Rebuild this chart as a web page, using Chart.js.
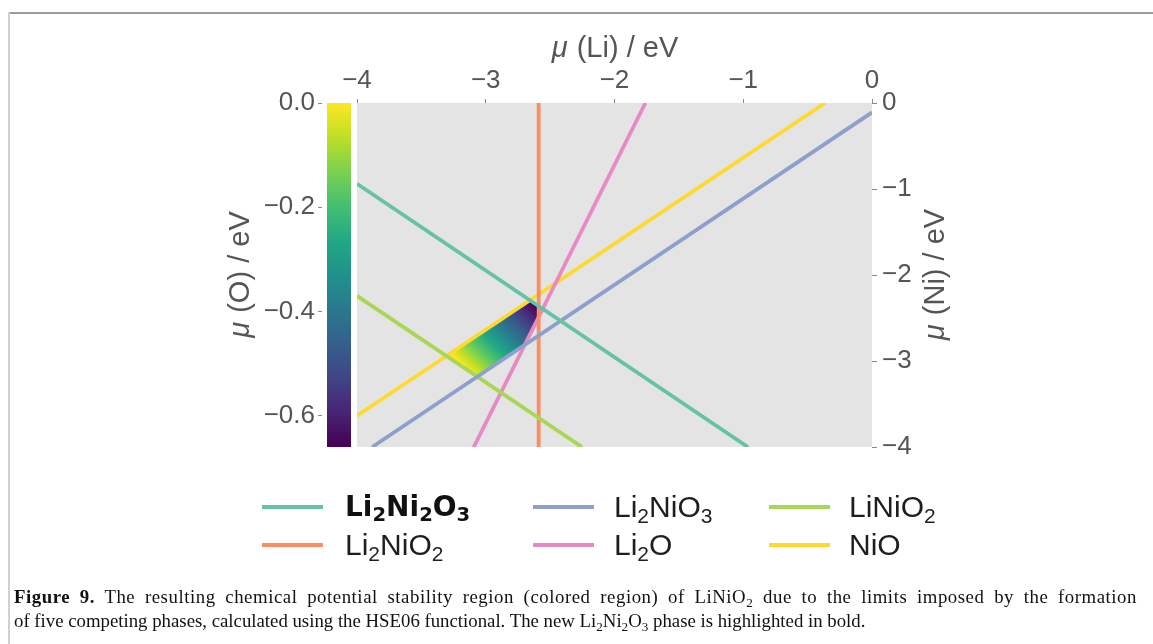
<!DOCTYPE html>
<html>
<head>
<meta charset="utf-8">
<script src="https://cdn.jsdelivr.net/npm/chart.js@4.4.0/dist/chart.umd.min.js"></script>
<style>
  html, body { margin: 0; padding: 0; background: #fff; width: 1153px; height: 644px; overflow: hidden; position: relative; }
  #frameTop { position: absolute; left: 8px; top: 12px; width: 1145px; height: 2px; background: #9c9c9c; }
  #frameLeft { position: absolute; left: 8px; top: 12px; width: 2px; height: 632px; background: #d0d0d0; }
  #c { position: absolute; left: 0; top: 0; }
  #legend { position: absolute; left: 0; top: 0; width: 1153px; height: 644px; pointer-events: none;
            font-family: "Liberation Sans", Arial, sans-serif; font-size: 30px; color: #1e1e1e; }
  .sw { position: absolute; width: 61px; height: 4px; }
  .lt { position: absolute; white-space: nowrap; line-height: 1; transform: translateY(-50%); }
  .lt.bold { font-family: "DejaVu Sans", sans-serif; font-weight: bold; font-size: 28px; color: #111; }
  .lt sub, .cap sub { font-size: 70%; vertical-align: baseline; position: relative; top: 0.28em; }
  .cap { position: absolute; left: 14px; font-family: "Liberation Serif", "Times New Roman", serif;
         font-size: 18.8px; line-height: 24px; color: #111; white-space: nowrap; }
  #cap1 { top: 585px; width: 1123px; text-align: justify; text-align-last: justify; white-space: normal; letter-spacing: 0.55px; }
  #cap2 { top: 609px; }
</style>
</head>
<body>
<div id="frameTop"></div>
<div id="frameLeft"></div>
<canvas id="c" width="1153" height="470"></canvas>
<div id="legend"></div>
<div class="cap" id="cap1"><b>Figure 9.</b> The resulting chemical potential stability region (colored region) of LiNiO<sub>2</sub> due to the limits imposed by the formation</div>
<div class="cap" id="cap2">of five competing phases, calculated using the HSE06 functional. The new Li<sub>2</sub>Ni<sub>2</sub>O<sub>3</sub> phase is highlighted in bold.</div>
<script>
// ---------------- data ----------------
const xRange = [-4, 0];          // mu(Li) / eV
const yRange = [-0.66, 0];       // mu(O) / eV
const niRange = [-4, 0];         // mu(Ni) / eV (right axis)
const xTicks = [-4, -3, -2, -1, 0];
const yTicks = [0, -0.2, -0.4, -0.6];
const niTicks = [0, -1, -2, -3, -4];

const phases = ['Li2Ni2O3', 'Li2NiO3', 'LiNiO2', 'Li2NiO2', 'Li2O', 'NiO'];
const phaseLabels = [
  'Li<sub>2</sub>Ni<sub>2</sub>O<sub>3</sub>',
  'Li<sub>2</sub>NiO<sub>3</sub>',
  'LiNiO<sub>2</sub>',
  'Li<sub>2</sub>NiO<sub>2</sub>',
  'Li<sub>2</sub>O',
  'NiO'
];
const phaseBold = [true, false, false, false, false, false];
const phaseColors = ['#66c2a5', '#8da0cb', '#a6d854', '#fc8d62', '#e78ac3', '#ffd92f'];

// limit lines: endpoints (mu(Li), mu(O))
const lineX = [
  [-4, -0.964],     // Li2Ni2O3
  [-3.882, 0],      // Li2NiO3
  [-4, -2.252],     // LiNiO2
  [-2.589, -2.589], // Li2NiO2
  [-3.093, -1.760], // Li2O
  [-4, -0.363]      // NiO
];
const lineY = [
  [-0.155, -0.66],
  [-0.66, -0.018],
  [-0.370, -0.66],
  [0, -0.66],
  [-0.66, 0],
  [-0.600, 0]
];

// stability region of LiNiO2 (polygon vertices)
const regionX = [-3.303, -2.660, -2.589, -2.589, -2.696, -3.067, -3.303];
const regionY = [-0.485, -0.379, -0.391, -0.410, -0.463, -0.524, -0.485];
// colour gradient direction across region (yellow -> purple)
const gradStart = [-3.134, -0.516];
const gradEnd = [-2.622, -0.387];

const viridis = ['#440154', '#482475', '#414487', '#355f8d', '#2a788e', '#21918c',
                 '#22a884', '#44bf70', '#7ad151', '#bddf26', '#fde725'];

const titles = {
  x: ['μ', ' (Li) / eV'],
  y: ['μ', ' (O) / eV'],
  y2: ['μ', ' (Ni) / eV']
};

// ---------------- helpers ----------------
const FONT = '"Liberation Sans", Arial, sans-serif';
const TXT = '#555555';
const minus = v => (v < 0 ? '\u2212' : '') + Math.abs(v);

function drawTitle(ctx, cx, cy, rot, parts, size) {
  ctx.save();
  ctx.translate(cx, cy);
  ctx.rotate(rot);
  ctx.textBaseline = 'middle';
  ctx.textAlign = 'left';
  ctx.fillStyle = TXT;
  ctx.font = 'italic ' + size + 'px ' + FONT;
  const w1 = ctx.measureText(parts[0]).width;
  ctx.font = size + 'px ' + FONT;
  const w2 = ctx.measureText(parts[1]).width;
  const sx = -(w1 + w2) / 2;
  ctx.font = 'italic ' + size + 'px ' + FONT;
  ctx.fillText(parts[0], sx, 0);
  ctx.font = size + 'px ' + FONT;
  ctx.fillText(parts[1], sx + w1 + 1, 0);
  ctx.restore();
}

const decorPlugin = {
  id: 'decor',
  beforeDraw(chart) {
    const {ctx, chartArea: a} = chart;
    ctx.save();
    ctx.fillStyle = '#e4e4e4';
    ctx.fillRect(a.left, a.top, a.right - a.left, a.bottom - a.top);
    // colour bar
    const ys = chart.scales.y;
    const top = ys.getPixelForValue(yRange[1]);
    const bot = ys.getPixelForValue(yRange[0]);
    const x0 = a.left - 30;
    const g = ctx.createLinearGradient(0, bot, 0, top);
    viridis.forEach((c, i) => g.addColorStop(i / (viridis.length - 1), c));
    ctx.fillStyle = g;
    ctx.fillRect(x0, top, 24, bot - top);
    ctx.restore();
  },
  afterDraw(chart) {
    const {ctx, chartArea: a} = chart;
    drawTitle(ctx, (a.left + a.right) / 2, a.top - 54, 0, titles.x, 29);
    drawTitle(ctx, a.left - 116, (a.top + a.bottom) / 2, -Math.PI / 2, titles.y, 29);
    drawTitle(ctx, a.right + 64, (a.top + a.bottom) / 2, -Math.PI / 2, titles.y2, 29);
  }
};

// ---------------- datasets ----------------
const datasets = phases.map((p, i) => ({
  label: p,
  data: lineX[i].map((x, j) => ({x, y: lineY[i][j]})),
  borderColor: phaseColors[i],
  backgroundColor: phaseColors[i],
  borderWidth: 3.8,
  pointRadius: 0,
  fill: false,
  tension: 0,
  xAxisID: 'x',
  yAxisID: 'y'
}));
datasets.push({
  label: 'stability region',
  data: regionX.map((x, j) => ({x, y: regionY[j]})),
  borderWidth: 0,
  borderColor: 'rgba(0,0,0,0)',
  pointRadius: 0,
  tension: 0,
  fill: 'shape',
  xAxisID: 'x',
  yAxisID: 'y',
  backgroundColor: (c) => {
    const ch = c.chart;
    if (!ch.chartArea) return 'rgba(0,0,0,0)';
    const xs = ch.scales.x, ys = ch.scales.y;
    const g = ch.ctx.createLinearGradient(
      xs.getPixelForValue(gradStart[0]), ys.getPixelForValue(gradStart[1]),
      xs.getPixelForValue(gradEnd[0]), ys.getPixelForValue(gradEnd[1]));
    viridis.forEach((col, i) => g.addColorStop(1 - i / (viridis.length - 1), col));
    return g;
  }
});

const tickFont = {family: FONT, size: 26, lineHeight: 1};

new Chart(document.getElementById('c'), {
  type: 'line',
  data: {datasets},
  plugins: [decorPlugin],
  options: {
    responsive: false,
    animation: false,
    devicePixelRatio: 1,
    layout: {padding: {top: 43, left: 200, right: 181, bottom: 23}},
    plugins: {legend: {display: false}, tooltip: {enabled: false}},
    scales: {
      x: {
        type: 'linear', position: 'top', min: xRange[0], max: xRange[1],
        afterBuildTicks: s => { s.ticks = xTicks.map(v => ({value: v})); },
        afterFit: s => { s.height = 60; },
        ticks: {font: tickFont, color: TXT, padding: 5, maxRotation: 0, callback: v => minus(v)},
        grid: {drawOnChartArea: false, drawTicks: true, tickLength: 4, color: '#8a8a8a', lineWidth: 1},
        border: {display: false}
      },
      y: {
        type: 'linear', position: 'left', min: yRange[0], max: yRange[1],
        afterBuildTicks: s => { s.ticks = yTicks.map(v => ({value: v})); },
        afterFit: s => { s.width = 157; },
        ticks: {font: tickFont, color: TXT, padding: 3,
                callback: v => (v < 0 ? '\u2212' : '') + Math.abs(v).toFixed(1)},
        grid: {drawOnChartArea: false, drawTicks: true, tickLength: 39, color: '#8a8a8a',
               lineWidth: 1, tickBorderDash: [4, 200]},
        border: {display: false}
      },
      y2: {
        type: 'linear', position: 'right', min: niRange[0], max: niRange[1],
        afterBuildTicks: s => { s.ticks = niTicks.map(v => ({value: v})); },
        afterFit: s => { s.width = 100; },
        ticks: {font: tickFont, color: TXT, padding: 5, callback: v => minus(v)},
        grid: {drawOnChartArea: false, drawTicks: true, tickLength: 5, color: '#8a8a8a', lineWidth: 1},
        border: {display: false}
      }
    }
  }
});

// ---------------- legend (HTML) ----------------
const legend = document.getElementById('legend');
const colSwatchX = [262, 533, 769];
const colTextX = [345, 614, 849];
const rowY = [507, 545];
phases.forEach((p, i) => {
  const col = i % 3, row = Math.floor(i / 3);
  const sw = document.createElement('div');
  sw.className = 'sw';
  sw.style.left = colSwatchX[col] + 'px';
  sw.style.top = (rowY[row] - 2) + 'px';
  sw.style.background = phaseColors[i];
  legend.appendChild(sw);
  const t = document.createElement('div');
  t.className = 'lt' + (phaseBold[i] ? ' bold' : '');
  t.style.left = colTextX[col] + 'px';
  t.style.top = rowY[row] + 'px';
  t.innerHTML = phaseLabels[i];
  legend.appendChild(t);
});
</script>
</body>
</html>
